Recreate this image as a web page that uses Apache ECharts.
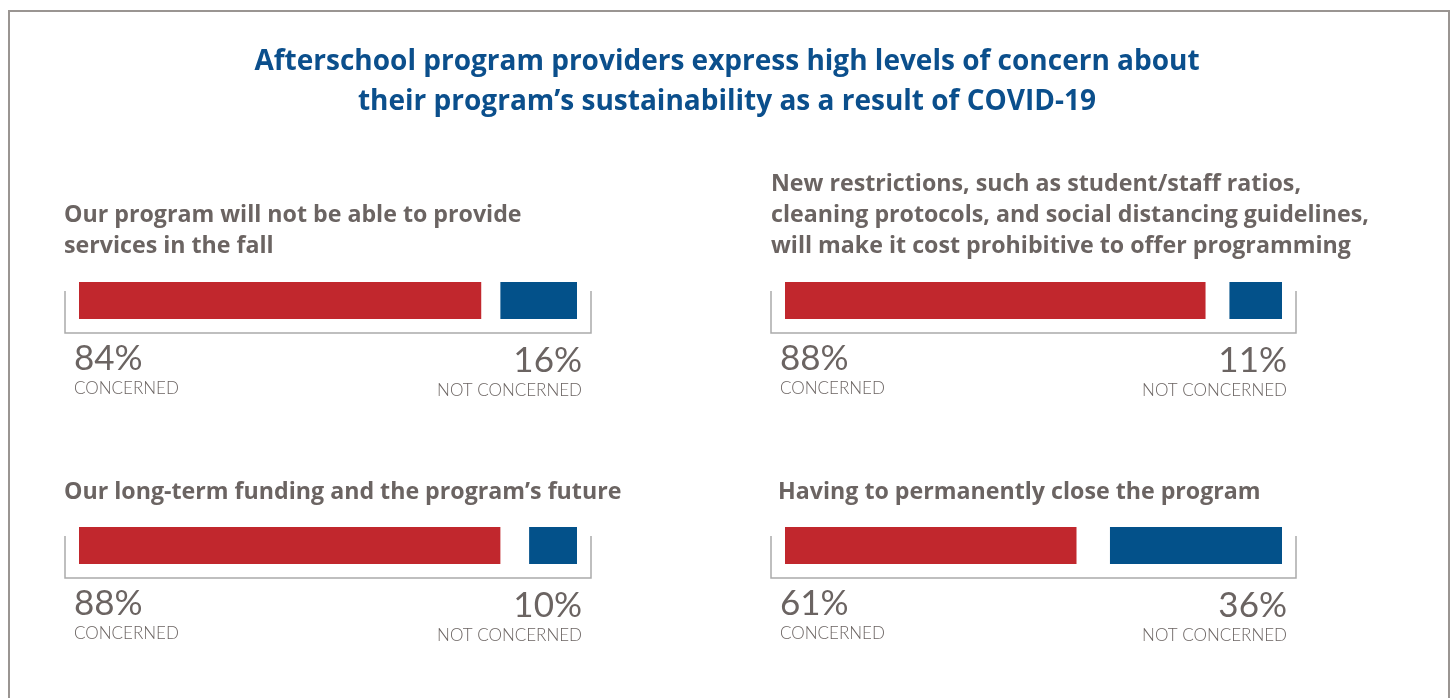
<!DOCTYPE html>
<html>
<head>
<meta charset="utf-8">
<script src="https://cdn.jsdelivr.net/npm/echarts@6/dist/echarts.min.js"></script>
<style>
  html, body { margin: 0; padding: 0; background: #fff; }
  #chart { width: 1454px; height: 698px; }
</style>
</head>
<body>
<div id="chart"></div>
<script>
const chartTitle = 'Afterschool program providers express high levels of concern about\ntheir program\u2019s sustainability as a result of COVID-19';

const panelTitles = [
  'Our program will not be able to provide\nservices in the fall',
  'New restrictions, such as student/staff ratios,\ncleaning protocols, and social distancing guidelines,\nwill make it cost prohibitive to offer programming',
  'Our long-term funding and the program\u2019s future',
  'Having to permanently close the program'
];

const concerned = [84, 88, 88, 61];
const notConcerned = [16, 11, 10, 36];

const RED = '#c1272d';
const BLUE = '#03518a';
const GRAY = '#6b6462';
const AXIS_MAX = 104;

// panel placement (bar area)
const panels = [
  { left: 79, top: 282, width: 498, titleLeft: 64, titleTop: 200 },
  { left: 785, top: 282, width: 497, titleLeft: 771, titleTop: 169 },
  { left: 79, top: 527, width: 498, titleLeft: 64, titleTop: 477 },
  { left: 785, top: 527, width: 497, titleLeft: 778, titleTop: 477 }
];
const BAR_H = 37;

const chart = echarts.init(document.getElementById('chart'));

const titles = [{
  text: chartTitle,
  left: 'center',
  top: 42,
  padding: 0,
  textStyle: {
    fontFamily: 'Open Sans',
    fontSize: 28,
    fontWeight: 'bold',
    color: '#0b4f8c',
    lineHeight: 40
  }
}];

const grids = [], xAxes = [], yAxes = [], series = [], graphics = [];

panels.forEach((p, i) => {
  titles.push({
    text: panelTitles[i],
    left: p.titleLeft,
    top: p.titleTop,
    padding: 0,
    textStyle: {
      fontFamily: 'Open Sans',
      fontSize: 23.2,
      fontWeight: 'bold',
      color: GRAY,
      lineHeight: 31
    }
  });

  grids.push({ left: p.left, top: p.top, width: p.width, height: BAR_H });
  xAxes.push({ type: 'value', gridIndex: i, min: 0, max: AXIS_MAX, show: false });
  yAxes.push({ type: 'category', gridIndex: i, data: [''], show: false });

  const labelRich = {
    p: { fontFamily: 'Lato', fontSize: 35, fontWeight: 'normal', color: GRAY, lineHeight: 38 },
    c: { fontFamily: 'Lato', fontSize: 17, fontWeight: 300, color: GRAY, lineHeight: 22 }
  };

  series.push({
    type: 'bar', xAxisIndex: i, yAxisIndex: i, stack: 's' + i,
    barWidth: BAR_H, silent: true,
    itemStyle: { color: RED },
    label: {
      show: true, position: [-5, 58], align: 'left', verticalAlign: 'top',
      formatter: '{p|' + concerned[i] + '%}\n{c|CONCERNED}', rich: labelRich
    },
    data: [concerned[i]]
  });
  series.push({
    type: 'bar', xAxisIndex: i, yAxisIndex: i, stack: 's' + i,
    barWidth: BAR_H, silent: true,
    itemStyle: { color: 'rgba(0,0,0,0)' },
    data: [AXIS_MAX - concerned[i] - notConcerned[i]]
  });
  series.push({
    type: 'bar', xAxisIndex: i, yAxisIndex: i, stack: 's' + i,
    barWidth: BAR_H, silent: true,
    itemStyle: { color: BLUE },
    label: {
      show: true, position: ['100%', 60], align: 'right', verticalAlign: 'top',
      formatter: '{p|' + notConcerned[i] + '%}\n{c|NOT CONCERNED}',
      rich: {
        p: Object.assign({}, labelRich.p, { align: 'right' }),
        c: Object.assign({}, labelRich.c, { align: 'right' })
      },
      offset: [5, 0]
    },
    data: [notConcerned[i]]
  });

  // bracket under each bar pair
  const l = p.left - 14, r = p.left + p.width + 14;
  const t = p.top + 9, b = p.top + BAR_H + 14;
  graphics.push({
    type: 'polyline', silent: true,
    shape: { points: [[l, t], [l, b], [r, b], [r, t]] },
    style: { stroke: '#aaaaaa', lineWidth: 1.5, fill: null }
  });
});

// outer frame
graphics.push({
  type: 'rect', silent: true,
  shape: { x: 9, y: 11, width: 1440, height: 720 },
  style: { stroke: '#9a9592', lineWidth: 2, fill: null }
});

chart.setOption({
  animation: false,
  title: titles,
  grid: grids,
  xAxis: xAxes,
  yAxis: yAxes,
  series: series,
  graphic: graphics
});
</script>
</body>
</html>
